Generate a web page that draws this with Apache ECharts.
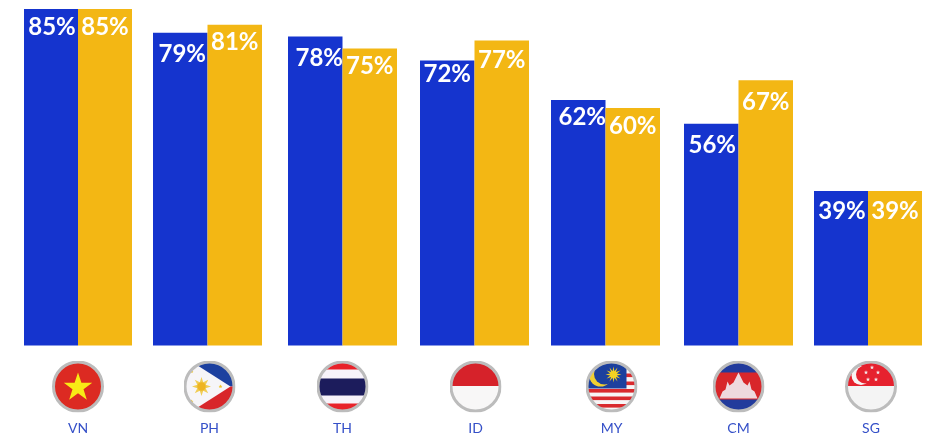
<!DOCTYPE html>
<html>
<head>
<meta charset="utf-8">
<style>html,body{margin:0;padding:0;background:#fff}#c{width:932px;height:433px}</style>
<script src="https://cdn.jsdelivr.net/npm/echarts@6/dist/echarts.min.js"></script>
</head>
<body>
<div id="c"></div>
<script>
const categories = ['VN', 'PH', 'TH', 'ID', 'MY', 'CM', 'SG'];
const seriesA = [85, 79, 78, 72, 62, 56, 39];
const seriesB = [85, 81, 75, 77, 60, 67, 39];

// Horizontal placement of each country group, in pixels.
const groupLeft = [24, 153, 288, 420, 551, 684, 814];
const groupWidth = [108, 109, 109, 109, 109, 109, 108];
// How far a flag and its code sit to the right of the group centre.
const flagShift = [0, 2, 0, 1, 6, 0, 3];
// Per-label nudges [dx, dy] relative to the top inside of the bar.
const nudgeA = [[1, 6], [2, 10], [4, 10], [0, 2], [4, 5], [1, 10], [1, 8]];
const nudgeB = [[0, 6], [0, 6], [0, 6], [0, 8], [0, 6], [0, 10], [0, 8]];

const star = (cx, cy, R, r, fill, n = 5) => {
  let p = '';
  for (let i = 0; i < n * 2; i++) {
    const a = -Math.PI / 2 + i * Math.PI / n, d = i % 2 ? r : R;
    p += (cx + d * Math.cos(a)).toFixed(2) + ',' + (cy + d * Math.sin(a)).toFixed(2) + ' ';
  }
  return `<polygon points="${p}" fill="${fill}"/>`;
};

// Each flag is a small SVG clipped to a disc with a grey ring.
const badge = (inner) => {
  const svg = `<svg xmlns="http://www.w3.org/2000/svg" width="52" height="52" viewBox="0 0 52 52">` +
    `<defs><clipPath id="k"><circle cx="26" cy="26" r="25"/></clipPath>` +
    `<filter id="s" x="-5%" y="-5%" width="110%" height="110%"><feGaussianBlur stdDeviation="0.45"/></filter></defs>` +
    `<g clip-path="url(#k)"><g filter="url(#s)"><rect width="52" height="52" fill="#fff"/>${inner}</g></g>` +
    `<circle cx="26" cy="26" r="24.5" fill="none" stroke="#bcbcbc" stroke-width="3"/></svg>`;
  return 'data:image/svg+xml;charset=utf-8,' + encodeURIComponent(svg);
};

const flags = {
  VN: `<rect width="52" height="52" fill="#dc2a20"/>` + star(26, 27, 15, 5.8, '#f8ea12'),
  PH: `<rect y="0" width="52" height="26" fill="#1f3f9f"/><rect y="26" width="52" height="26" fill="#d8262c"/>` +
      `<polygon points="0,-4 47,26 0,56" fill="#f6f5f8"/>` +
      star(18, 26, 9.5, 4.5, '#f0cd55', 8) + `<circle cx="18" cy="26" r="4.2" fill="#eeb420"/>` +
      star(37, 26, 2, 1, '#f0c325') + star(8, 11, 2, 1, '#f0c325') + star(8, 41, 2, 1, '#f0c325'),
  TH: `<rect width="52" height="52" fill="#e8242c"/><rect y="9" width="52" height="34" fill="#f7f3fa"/>` +
      `<rect y="18" width="52" height="17" fill="#1d1a5c"/>`,
  ID: `<rect width="52" height="25.5" fill="#d6232b"/><rect y="25.5" width="52" height="26.5" fill="#f8f7f7"/>`,
  MY: `<rect width="52" height="52" fill="#f7f5f6"/>` +
      [28.5, 36, 43.5].map(y => `<rect y="${y}" width="52" height="3.6" fill="#d92b2e"/>`).join('') +
      [5, 13, 21].map(y => `<rect x="40" y="${y}" width="12" height="3.6" fill="#d92b2e"/>`).join('') +
      `<rect width="41" height="28" fill="#1f3f9e"/>` +
      `<circle cx="15" cy="14.5" r="11.5" fill="#f0d030"/><circle cx="19" cy="13.5" r="10.5" fill="#1f3f9e"/>` +
      star(28, 14, 8, 3.4, '#f5d320', 12),
  CM: `<rect width="52" height="52" fill="#243a9c"/><rect y="12" width="52" height="27" fill="#d8262a"/>` +
      `<path d="M7 38 L10 31 L13 29 L15 21 L17 25 L21 22 L26 12 L31 22 L35 25 L37 21 L39 29 L42 31 L45 38 Z" fill="#eed9de"/>`,
  SG: `<rect width="52" height="25.5" fill="#e6202e"/><rect y="25.5" width="52" height="26.5" fill="#f4f4f4"/>` +
      `<circle cx="16" cy="15" r="9.5" fill="#f8f4f4"/><circle cx="20" cy="14" r="9" fill="#e6202e"/>` +
      star(27, 7, 2.2, 1, '#f4e6e6') + star(21, 12, 2.2, 1, '#f4e6e6') + star(33, 12, 2.2, 1, '#f4e6e6') +
      star(23, 19, 2.2, 1, '#f4e6e6') + star(31, 19, 2.2, 1, '#f4e6e6')
};

const SCALE_MAX = 85;
const BASE_Y = 345.5, PLOT_H = 336.6;
const labelFont = { color: '#fff', fontFamily: 'Lato', fontWeight: 700, fontSize: 24, lineHeight: 24 };

const grids = [], xAxes = [], yAxes = [], series = [];
categories.forEach((code, i) => {
  grids.push({ left: groupLeft[i], width: groupWidth[i], top: BASE_Y - PLOT_H, height: PLOT_H, outerBoundsMode: 'none' });
  xAxes.push({
    type: 'category', gridIndex: i, data: [code],
    axisLine: { show: false }, axisTick: { show: false },
    axisLabel: {
      interval: 0, margin: 15,
      formatter: c => `{pad|}{flag|}\n{pad|}{code|${c}}`,
      rich: {
        pad: { width: flagShift[i] * 2, height: 1 },
        flag: { width: 52, height: 52, backgroundColor: { image: badge(flags[code]) } },
        code: { color: '#3550c8', fontFamily: 'Lato', fontSize: 14, lineHeight: 31, align: 'center' }
      }
    }
  });
  yAxes.push({ type: 'value', gridIndex: i, min: 0, max: SCALE_MAX, show: false });
  const bar = (v, nudge, color) => ({
    type: 'bar', xAxisIndex: i, yAxisIndex: i, data: [v],
    barWidth: '50%', barGap: 0, silent: true,
    itemStyle: { color },
    label: { show: true, position: 'insideTop', distance: 0, offset: nudge, formatter: '{c}%', ...labelFont }
  });
  series.push(bar(seriesA[i], nudgeA[i], '#1534ce'), bar(seriesB[i], nudgeB[i], '#f3b714'));
});

echarts.init(document.getElementById('c')).setOption({
  animation: false, backgroundColor: '#fff',
  grid: grids, xAxis: xAxes, yAxis: yAxes, series
});
</script>
</body>
</html>
